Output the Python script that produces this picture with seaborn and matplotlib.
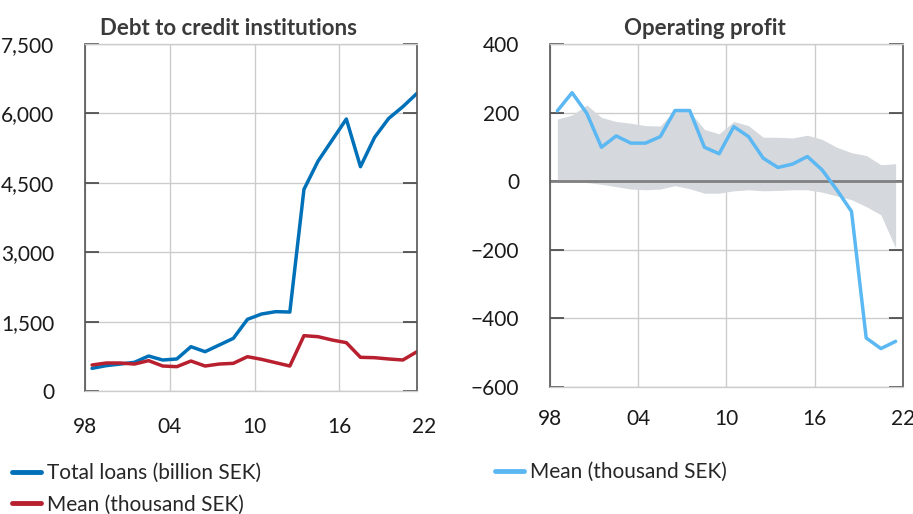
#!/usr/bin/env python3
"""Debt to credit institutions and operating profit, two panels."""

import matplotlib.pyplot as plt
import pandas as pd
import seaborn as sns

YEARS = [1998, 1999, 2000, 2001, 2002, 2003, 2004, 2005, 2006, 2007, 2008, 2009,
         2010, 2011, 2012, 2013, 2014, 2015, 2016, 2017, 2018, 2019, 2020, 2021]

TOTAL_LOANS = [490, 548, 583, 620, 756, 670, 692, 958, 850, 994, 1138, 1549,
               1664, 1715, 1707, 4359, 4971, 5425, 5879, 4849, 5483, 5893, 6146, 6434]
DEBT_MEAN = [562, 605, 605, 583, 656, 540, 526, 648, 540, 583, 598, 742,
             684, 612, 540, 1196, 1174, 1102, 1045, 728, 720, 692, 670, 850]

PROFIT_MEAN = [205, 258, 198, 99, 132, 111, 111, 130, 206, 206, 99, 80,
               159, 130, 67, 40, 50, 72, 33, -25, -88, -457, -488, -467]
PROFIT_UPPER = [181, 193, 222, 186, 174, 169, 162, 161, 208, 203, 151, 138,
                174, 162, 128, 128, 126, 134, 122, 99, 83, 75, 48, 51]
PROFIT_LOWER = [-2, -3, -4, -9, -16, -23, -25, -23, -13, -22, -35, -35,
                -28, -25, -28, -27, -25, -25, -32, -43, -54, -74, -98, -195]

TICK_YEARS = [1998, 2004, 2010, 2016, 2022]
TICK_LABELS = ["98", "04", "10", "16", "22"]

BLUE = "#0071b9"
RED = "#b8202f"
LIGHT_BLUE = "#5cb8f2"
BAND = "#d5d8dc"
TEXT = "#1a1a1a"
TITLE = "#3a3a3a"

X_PAD = 19


def style_axes(ax, yticks):
    ax.set_yticks(yticks)
    ax.grid(True, color="#cccccc", linewidth=1.0)
    ax.set_axisbelow(True)
    for side in ("top", "bottom"):
        ax.spines[side].set_color("#cccccc")
        ax.spines[side].set_linewidth(1.0)
    for side in ("left", "right"):
        ax.spines[side].set_color("#555555")
        ax.spines[side].set_linewidth(1.2)
    ax.tick_params(axis="y", which="both", direction="in", length=10, width=1.2,
                   color="#444444", left=True, right=True, labelsize=15,
                   labelcolor=TEXT, pad=22)
    ax.tick_params(axis="x", length=0, labelsize=15, labelcolor=TEXT, pad=X_PAD)
    ax.set_xlabel("")
    ax.set_ylabel("")


def main():
    sns.set_theme(style="white")
    plt.rcParams["font.family"] = ["Lato", "DejaVu Sans"]

    x = [y + 0.5 for y in YEARS]
    debt = pd.DataFrame({"x": x, "loans": TOTAL_LOANS, "mean": DEBT_MEAN})
    profit = pd.DataFrame({"x": x, "mean": PROFIT_MEAN,
                           "upper": PROFIT_UPPER, "lower": PROFIT_LOWER})

    fig = plt.figure(figsize=(9.13, 5.14), dpi=100)
    ax1 = fig.add_axes([0.0931, 0.2393, 0.3636, 0.675])
    ax2 = fig.add_axes([0.6024, 0.2471, 0.3866, 0.6673])

    # left panel
    sns.lineplot(data=debt, x="x", y="loans", color=BLUE, linewidth=2.5,
                 ax=ax1, label="Total loans (billion SEK)")
    sns.lineplot(data=debt, x="x", y="mean", color=RED, linewidth=2.5,
                 ax=ax1, label="Mean (thousand SEK)")
    ax1.set_xlim(1998, 2021.5)
    ax1.set_ylim(0, 7500)
    ax1.set_xticks(TICK_YEARS[:-1])
    ax1.set_xticklabels(TICK_LABELS[:-1])
    style_axes(ax1, [0, 1500, 3000, 4500, 6000, 7500])
    ax1.set_yticklabels(["0", "1,500", "3,000", "4,500", "6,000", "7,500"])
    # last year label sits just past the right edge of the axis
    ax1.annotate(TICK_LABELS[-1], xy=(TICK_YEARS[-1], 0), xycoords=("data", "axes fraction"),
                 xytext=(0, -X_PAD), textcoords="offset points", ha="center", va="top",
                 fontsize=15, color=TEXT, annotation_clip=False)
    ax1.legend(loc="upper left", bbox_to_anchor=(0.004, 0.115), bbox_transform=fig.transFigure,
               frameon=False, fontsize=15, handlelength=1.4, handletextpad=0.3,
               labelspacing=0.55, borderaxespad=0)
    for line in ax1.get_legend().get_lines():
        line.set_linewidth(3.5)

    # right panel
    ax2.fill_between(profit["x"], profit["lower"], profit["upper"], color=BAND,
                     linewidth=0, zorder=1)
    ax2.axhline(0, color="#808080", linewidth=2, zorder=2)
    sns.lineplot(data=profit, x="x", y="mean", color=LIGHT_BLUE, linewidth=2.5,
                 ax=ax2, label="Mean (thousand SEK)", zorder=3)
    ax2.set_xlim(1998, 2022)
    ax2.set_ylim(-600, 400)
    ax2.set_xticks(TICK_YEARS)
    ax2.set_xticklabels(TICK_LABELS)
    style_axes(ax2, [-600, -400, -200, 0, 200, 400])
    ax2.tick_params(axis="x", pad=16)
    ax2.legend(loc="upper left", bbox_to_anchor=(0.533, 0.117), bbox_transform=fig.transFigure,
               frameon=False, fontsize=15, handlelength=1.4, handletextpad=0.3,
               borderaxespad=0)
    for line in ax2.get_legend().get_lines():
        line.set_linewidth(3.5)

    fig.text(0.25, 0.945, "Debt to credit institutions", ha="center", va="center",
             fontsize=16, fontweight="bold", color=TITLE)
    fig.text(0.772, 0.945, "Operating profit", ha="center", va="center",
             fontsize=16, fontweight="bold", color=TITLE)

    fig.savefig("out.png", dpi=100)


if __name__ == "__main__":
    main()
